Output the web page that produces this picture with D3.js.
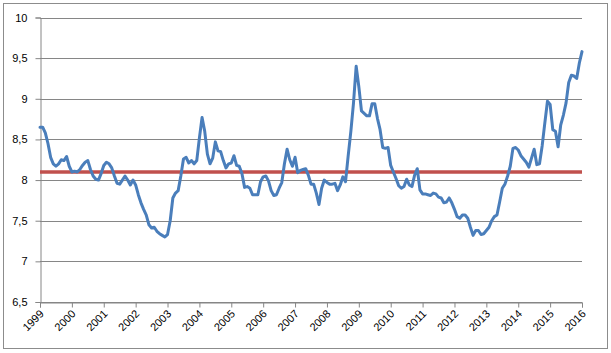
<!DOCTYPE html>
<html>
<head>
<meta charset="utf-8">
<script src="https://cdn.jsdelivr.net/npm/d3@7"></script>
<style>
  body { margin: 0; background: #fff; }
  text { font-family: "Liberation Sans", Arial, sans-serif; font-size: 11px; fill: #000; }
</style>
</head>
<body>
<div id="chart"></div>
<script>
// monthly values, Jan 1999 .. Jan 2016
const values = [
  8.65, 8.65, 8.58, 8.45, 8.28, 8.20, 8.17, 8.20, 8.25, 8.24, 8.29, 8.17,
  8.10, 8.11, 8.10, 8.13, 8.18, 8.22, 8.24, 8.13, 8.05, 8.01, 8.00, 8.08,
  8.18, 8.22, 8.20, 8.15, 8.05, 7.96, 7.95, 8.00, 8.05, 8.00, 7.94, 8.00,
  7.94, 7.82, 7.72, 7.64, 7.57, 7.45, 7.41, 7.42, 7.37, 7.34, 7.32, 7.30,
  7.33, 7.50, 7.78, 7.84, 7.87, 8.05, 8.26, 8.28, 8.21, 8.24, 8.20, 8.24,
  8.52, 8.77, 8.60, 8.32, 8.20, 8.27, 8.47, 8.36, 8.35, 8.24, 8.15, 8.20,
  8.21, 8.30, 8.18, 8.17, 8.08, 7.91, 7.92, 7.90, 7.82, 7.82, 7.82, 7.98,
  8.04, 8.05, 7.99, 7.87, 7.81, 7.82, 7.90, 7.97, 8.20, 8.38, 8.25, 8.17,
  8.28, 8.09, 8.12, 8.13, 8.14, 8.06, 7.95, 7.95, 7.84, 7.70, 7.90, 8.00,
  7.97, 7.95, 7.95, 7.96, 7.87, 7.94, 8.04, 7.98, 8.30, 8.60, 8.95, 9.40,
  9.15, 8.85, 8.82, 8.79, 8.79, 8.94, 8.94, 8.76, 8.62, 8.40, 8.39, 8.40,
  8.18, 8.10, 8.02, 7.93, 7.90, 7.92, 8.01, 7.94, 7.92, 8.06, 8.14, 7.88,
  7.83, 7.83, 7.82, 7.81, 7.84, 7.83, 7.79, 7.78, 7.72, 7.73, 7.78, 7.72,
  7.64, 7.55, 7.53, 7.57, 7.57, 7.53, 7.42, 7.32, 7.38, 7.38, 7.33, 7.34,
  7.38, 7.42, 7.50, 7.55, 7.57, 7.73, 7.90, 7.95, 8.05, 8.17, 8.39, 8.40,
  8.37, 8.30, 8.26, 8.22, 8.16, 8.27, 8.38, 8.19, 8.20, 8.42, 8.70, 8.97,
  8.93, 8.62, 8.60, 8.41, 8.68, 8.80, 8.95, 9.20, 9.29, 9.28, 9.25, 9.44,
  9.58
];
const average = 8.1;
const years = ["1999", "2000", "2001", "2002", "2003", "2004", "2005", "2006", "2007",
  "2008", "2009", "2010", "2011", "2012", "2013", "2014", "2015", "2016"];
const yTicks = [6.5, 7, 7.5, 8, 8.5, 9, 9.5, 10];

const width = 611, height = 353;
const margin = { top: 17.5, right: 29, bottom: 51, left: 40 };

const svg = d3.select("#chart").append("svg")
  .attr("width", width)
  .attr("height", height);

svg.append("rect")
  .attr("x", 3.5).attr("y", 3.5)
  .attr("width", 604).attr("height", 345)
  .attr("fill", "#fff")
  .attr("stroke", "#8c8c8c");

const x = d3.scaleLinear()
  .domain([0, values.length - 1])
  .range([margin.left, width - margin.right]);

const y = d3.scaleLinear()
  .domain([6.5, 10])
  .range([height - margin.bottom, margin.top]);

// gridlines
svg.append("g")
  .selectAll("line")
  .data(yTicks)
  .enter().append("line")
  .attr("x1", margin.left).attr("x2", width - margin.right)
  .attr("y1", d => Math.round(y(d)) + 0.5)
  .attr("y2", d => Math.round(y(d)) + 0.5)
  .attr("stroke", "#868686");

const yAxis = svg.append("g")
  .attr("transform", `translate(${margin.left + 0.5},0)`)
  .call(d3.axisLeft(y).tickValues(yTicks).tickSize(5).tickPadding(8)
    .tickFormat(d => String(d).replace(".", ",")));

const xAxis = svg.append("g")
  .attr("transform", `translate(0,${Math.round(y(6.5)) + 0.5})`)
  .call(d3.axisBottom(x).tickValues(years.map((_, i) => i * 12)).tickSize(5)
    .tickFormat((d, i) => years[i]));

xAxis.selectAll("text")
  .attr("text-anchor", "end")
  .attr("dy", null)
  .attr("y", 0)
  .attr("transform", "translate(4,12) rotate(-45)");

[yAxis, xAxis].forEach(g => {
  g.select(".domain").attr("stroke", "#868686");
  g.selectAll(".tick line").attr("stroke", "#868686");
  g.selectAll("text").style("font-size", "11px");
});

// average line
svg.append("path")
  .datum(values.map(() => average))
  .attr("fill", "none")
  .attr("stroke", "#c0504d")
  .attr("stroke-width", 3.5)
  .attr("d", d3.line().x((d, i) => x(i)).y(d => y(d)));

svg.append("path")
  .datum(values)
  .attr("fill", "none")
  .attr("stroke", "#4a7ebb")
  .attr("stroke-width", 3)
  .attr("stroke-linejoin", "round")
  .attr("stroke-linecap", "round")
  .attr("d", d3.line().x((d, i) => x(i)).y(d => y(d)));
</script>
</body>
</html>
